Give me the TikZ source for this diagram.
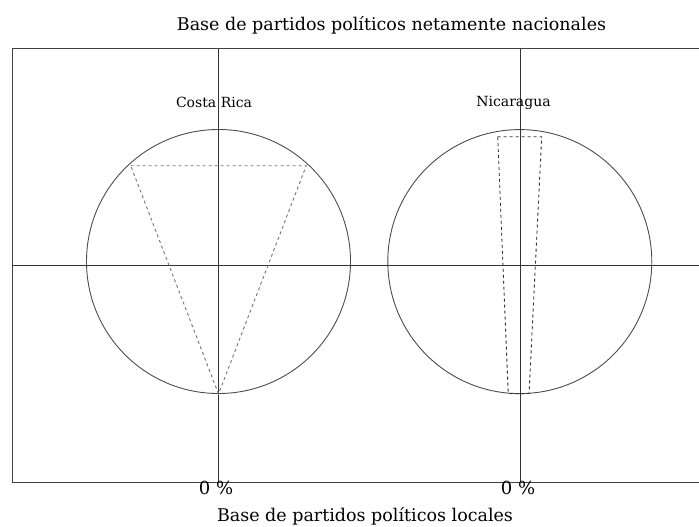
\documentclass[tikz,border=0pt]{standalone}
\usepackage{fontspec}
\setmainfont{DejaVu Serif}
\usetikzlibrary{shapes}

\begin{document}
\begin{tikzpicture}[x=1pt,y=-1pt]
				\tikzset{frame/.style = {draw=black!75, line width=1pt}}
				\tikzset{axis/.style = {draw=black!80, line width=0.9pt}}
				\tikzset{disc/.style = {shape=circle,draw=black!70,minimum 
						size=264pt, line width=0.9pt,
						inner sep = 0pt}}
				\tikzset{share/.style = {dashed, line width=0.9pt}}
				\tikzset{heading/.style = {inner sep=0pt, font=\fontsize{17.5}{20}\selectfont}}
				\tikzset{country/.style = {inner sep=0pt, font=\fontsize{14}{16}\selectfont}}
				\tikzset{zero/.style = {inner sep=0pt, font=\fontsize{18}{20}\selectfont}}
				\useasboundingbox (0,0) rectangle (699,527);
				
				% corners
				\coordinate (tl) at (12.3,49);
				\coordinate (tr) at (699,49);
				\coordinate (bl) at (12.3,482.7);
				\coordinate (br) at (699,482.7);
				\coordinate (ml) at (12.3,265.5);
				\coordinate (mr) at (699,265.5);
				\coordinate (crt) at (218.5,49);
				\coordinate (crb) at (218.5,482.7);
				\coordinate (nit) at (520,49);
				\coordinate (nib) at (520,482.7);
				
				% circles
				\node[disc] (cr) at (218.5,261.5) {};
				\node[disc] (ni) at (519.8,261.6) {};
				\coordinate (cra) at (130.7,165.7);
				\coordinate (crc) at (306.3,165.7);
				\coordinate (nia) at (497.7,136.7);
				\coordinate (nic) at (541.7,136.7);
				
				%edges
				
				\draw[frame] (tr) -- (tl) -- (bl) -- (br);
				\draw[axis] (ml) to (mr);
				\draw[axis] (crt) to (crb);
				\draw[axis] (nit) to (nib);
				\draw[share, black!55] (cra) -- (crc) -- (cr.south) -- cycle;
				\draw[share, black!80] (nia) -- (nic) -- (ni.274.6) -- (ni.265) -- cycle;
				
				% texts
				\node[heading] (nac) at (391.5,25) {Base de partidos políticos netamente nacionales};
				\node[heading] (loc) at (365,516) {Base de partidos políticos locales};
				\node[country] (crn) at (214,102) {Costa Rica};
				\node[country] (nin) at (513.5,103) {Nicaragua};
				\node[zero] (crz) at (216,488) {0 \%};
				\node[zero] (niz) at (518,488) {0 \%};
				
				\end{tikzpicture}
\end{document}
